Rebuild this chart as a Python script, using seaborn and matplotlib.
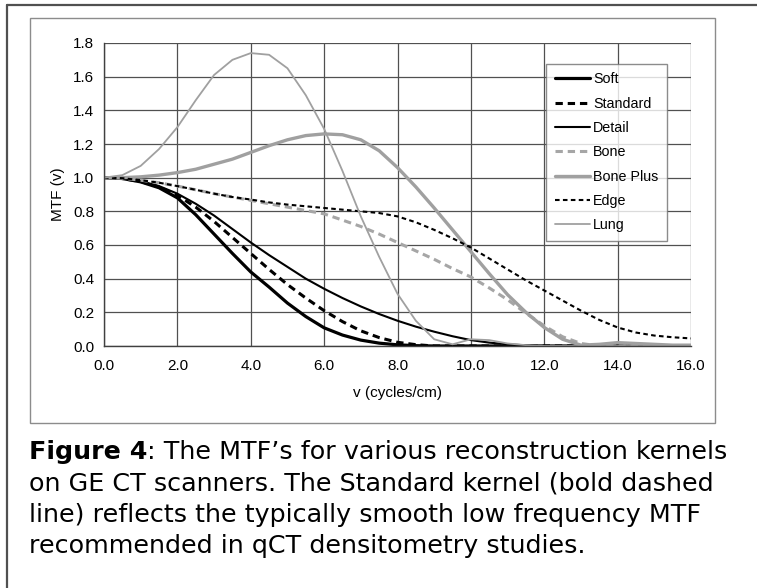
import numpy as np
import pandas as pd
import matplotlib
matplotlib.use("Agg")
import matplotlib.pyplot as plt
from matplotlib.lines import Line2D
from matplotlib.patches import Rectangle
import seaborn as sns

# spatial frequency (cycles/cm), values read every 0.5
freq = np.arange(0, 16.01, 0.5)

soft = [1.0, 0.995, 0.975, 0.94, 0.88, 0.78, 0.665, 0.55, 0.44, 0.35, 0.255,
        0.175, 0.108, 0.065, 0.035, 0.017, 0.007, 0.002, 0.0, 0.0, 0.0, 0.0,
        0.0, 0.0, 0.0, 0.0, 0.0, 0.0, 0.0, 0.0, 0.0, 0.0, 0.0]
standard = [1.0, 0.995, 0.977, 0.945, 0.895, 0.825, 0.74, 0.645, 0.55, 0.455,
            0.365, 0.285, 0.21, 0.145, 0.09, 0.05, 0.022, 0.008, 0.0, 0.0, 0.0,
            0.0, 0.0, 0.0, 0.0, 0.0, 0.0, 0.0, 0.0, 0.0, 0.0, 0.0, 0.0]
detail = [1.0, 0.997, 0.98, 0.95, 0.905, 0.845, 0.775, 0.695, 0.615, 0.54,
          0.47, 0.40, 0.34, 0.285, 0.235, 0.19, 0.15, 0.115, 0.085, 0.058,
          0.035, 0.02, 0.01, 0.004, 0.0, 0.0, 0.0, 0.0, 0.0, 0.0, 0.0, 0.0, 0.0]
bone = [1.0, 0.997, 0.985, 0.97, 0.95, 0.928, 0.905, 0.885, 0.865, 0.845,
        0.825, 0.805, 0.785, 0.748, 0.71, 0.665, 0.615, 0.565, 0.515, 0.46,
        0.41, 0.345, 0.275, 0.195, 0.12, 0.055, 0.015, 0.0, 0.0, 0.0, 0.0,
        0.0, 0.0]
bone_plus = [1.0, 1.0, 1.005, 1.015, 1.03, 1.05, 1.08, 1.11, 1.15, 1.19, 1.225,
             1.25, 1.26, 1.255, 1.225, 1.16, 1.06, 0.945, 0.82, 0.69, 0.56,
             0.43, 0.305, 0.2, 0.11, 0.04, 0.005, 0.01, 0.02, 0.015, 0.01,
             0.005, 0.005]
edge = [1.0, 0.997, 0.985, 0.97, 0.95, 0.928, 0.905, 0.885, 0.87, 0.853, 0.84,
        0.83, 0.82, 0.81, 0.80, 0.79, 0.77, 0.735, 0.69, 0.64, 0.585, 0.52,
        0.455, 0.39, 0.33, 0.27, 0.21, 0.155, 0.11, 0.08, 0.062, 0.052, 0.045]
lung = [1.0, 1.015, 1.07, 1.17, 1.30, 1.46, 1.61, 1.70, 1.74, 1.73, 1.65, 1.49,
        1.29, 1.04, 0.77, 0.53, 0.31, 0.15, 0.04, 0.01, 0.04, 0.035, 0.015,
        0.005, 0.0, 0.0, 0.0, 0.0, 0.0, 0.0, 0.0, 0.0, 0.0]

kernels = ["Soft", "Standard", "Detail", "Bone", "Bone Plus", "Edge", "Lung"]
series = [soft, standard, detail, bone, bone_plus, edge, lung]

styles = {
    "Soft":      dict(color="black", lw=2.3, ls="-"),
    "Standard":  dict(color="black", lw=2.2, ls=(0, (2.4, 1.6))),
    "Detail":    dict(color="black", lw=1.5, ls="-"),
    "Bone":      dict(color="#a6a6a6", lw=2.2, ls=(0, (2.4, 1.6))),
    "Bone Plus": dict(color="#a0a0a0", lw=2.4, ls="-"),
    "Edge":      dict(color="black", lw=1.5, ls=(0, (2.2, 1.6))),
    "Lung":      dict(color="#a0a0a0", lw=1.3, ls="-"),
}

sns.set_style("white")
plt.rcParams["font.family"] = ["Liberation Sans", "DejaVu Sans"]

fig = plt.figure(figsize=(7.57, 5.88), dpi=100)
W, H = 757, 588
ax = fig.add_axes([104 / W, 1 - 346 / H, (691 - 104) / W, (346 - 43) / H])

for name, vals in zip(kernels, series):
    st = styles[name]
    sns.lineplot(x=freq, y=vals, ax=ax, color=st["color"], linewidth=st["lw"],
                 linestyle=st["ls"], label=name)

ax.set_xlim(0, 16)
ax.set_ylim(0, 1.8)
ax.set_xticks(np.arange(0, 16.1, 2))
ax.set_yticks(np.arange(0, 1.81, 0.2))
ax.set_xticklabels([f"{t:.1f}" for t in np.arange(0, 16.1, 2)])
ax.set_yticklabels([f"{t:.1f}" for t in np.arange(0, 1.81, 0.2)])
ax.tick_params(axis="both", labelsize=11, length=4, width=0.9,
               color="#404040", labelcolor="black", direction="out", pad=3)
ax.tick_params(axis="x", pad=5)
ax.grid(True, color="#505050", linewidth=0.9)
ax.set_axisbelow(True)
for side in ["top", "right"]:
    ax.spines[side].set_visible(False)
for side in ["left", "bottom"]:
    ax.spines[side].set_color("#404040")
    ax.spines[side].set_linewidth(1.0)

ax.set_xlabel("v (cycles/cm)", fontsize=11, labelpad=10, color="black")
ax.set_ylabel("MTF (v)", fontsize=11, labelpad=6, color="black")

leg = ax.legend(loc="upper left", bbox_to_anchor=(0.753, 0.931),
                borderaxespad=0, fontsize=10.3, frameon=True, fancybox=False,
                edgecolor="#707070", handlelength=2.45, handletextpad=0.25,
                labelspacing=0.72, borderpad=0.6)
leg.get_frame().set_linewidth(1.0)
for t in leg.get_texts():
    t.set_color("black")

# chart frame and outer frame
fig.add_artist(Rectangle((30 / W, 1 - 423 / H), (715 - 30) / W, (423 - 18) / H,
                         transform=fig.transFigure, fill=False,
                         edgecolor="#8c8c8c", linewidth=1.0))
fig.add_artist(Line2D([7 / W, 1], [1 - 5 / H, 1 - 5 / H], transform=fig.transFigure,
                      color="#505050", linewidth=1.6))
fig.add_artist(Line2D([7 / W, 7 / W], [0, 1 - 5 / H], transform=fig.transFigure,
                      color="#505050", linewidth=1.6))

# caption
cap_font = ["DejaVu Sans"]
cap_size = 18.3
x0 = 29 / W
bold = fig.text(x0, 1 - 459 / H, "Figure 4", fontsize=cap_size, fontweight="bold",
                family=cap_font, va="baseline", ha="left", color="black")
fig.canvas.draw()
bb = bold.get_window_extent(fig.canvas.get_renderer())
fig.text(bb.x1 / W, 1 - 459 / H, ": The MTF\u2019s for various reconstruction kernels",
         fontsize=cap_size, family=cap_font, va="baseline", ha="left", color="black")
lines = ["on GE CT scanners. The Standard kernel (bold dashed",
         "line) reflects the typically smooth low frequency MTF",
         "recommended in qCT densitometry studies."]
for i, t in enumerate(lines):
    fig.text(x0, 1 - (459 + 31.3 * (i + 1)) / H, t, fontsize=cap_size,
             family=cap_font, va="baseline", ha="left", color="black")

fig.savefig("out.png", dpi=100)
